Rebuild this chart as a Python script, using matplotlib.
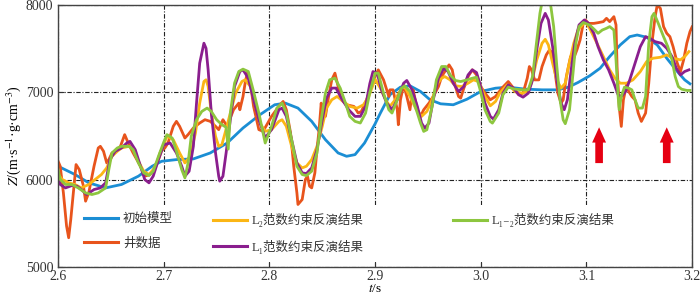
import matplotlib
matplotlib.use('Agg')
import matplotlib.pyplot as plt
from matplotlib.patches import Rectangle

plt.rcParams['font.family'] = ['Liberation Serif', 'Noto Sans CJK SC', 'DejaVu Sans']
plt.rcParams['mathtext.fontset'] = 'stix'

# initial model
t_init = [2.600, 2.616, 2.629, 2.645, 2.660, 2.676, 2.689, 2.698, 2.712, 2.728, 2.744, 2.760,
          2.775, 2.791, 2.805, 2.815, 2.827, 2.840, 2.853, 2.865, 2.873, 2.881, 2.890, 2.900,
          2.905, 2.914, 2.924, 2.933, 2.943, 2.952, 2.962, 2.974, 2.987, 3.000, 3.014, 3.026,
          3.042, 3.058, 3.073, 3.083, 3.092, 3.103, 3.113, 3.122, 3.132, 3.141, 3.148, 3.157,
          3.167, 3.176, 3.186, 3.193, 3.198]
z_init = [6154, 6059, 5964, 5906, 5945, 6040, 6154, 6211, 6230, 6238, 6306, 6420,
          6592, 6744, 6858, 6877, 6820, 6668, 6458, 6306, 6268, 6287, 6420, 6640,
          6763, 6972, 7060, 7075, 7010, 6915, 6869, 6858, 6922, 7010, 7048, 7060,
          7037, 7029, 7029, 7060, 7113, 7189, 7277, 7410, 7543, 7638, 7657, 7631,
          7543, 7391, 7239, 7143, 7098]

# well data
t_well = [2.600, 2.602, 2.605, 2.608, 2.610, 2.612, 2.615, 2.617, 2.620, 2.624, 2.626, 2.629,
          2.634, 2.638, 2.640, 2.643, 2.646, 2.648, 2.651, 2.654, 2.659, 2.663, 2.667, 2.671,
          2.678, 2.682, 2.687, 2.692, 2.697, 2.701, 2.704, 2.709, 2.712, 2.715, 2.720, 2.723,
          2.728, 2.734, 2.739, 2.744, 2.749, 2.752, 2.756, 2.760, 2.763, 2.766, 2.771, 2.772,
          2.775, 2.777, 2.779, 2.782, 2.785, 2.790, 2.794, 2.802, 2.810, 2.813, 2.816, 2.820,
          2.823, 2.826, 2.827, 2.831, 2.834, 2.836, 2.838, 2.840, 2.843, 2.845, 2.847, 2.849,
          2.850, 2.853, 2.856, 2.859, 2.862, 2.865, 2.868, 2.873, 2.880, 2.884, 2.887, 2.892,
          2.897, 2.903, 2.908, 2.913, 2.914, 2.917, 2.921, 2.922, 2.924, 2.927, 2.930, 2.933,
          2.935, 2.936, 2.940, 2.943, 2.946, 2.951, 2.955, 2.960, 2.963, 2.967, 2.970, 2.973,
          2.976, 2.979, 2.981, 2.984, 2.988, 2.992, 2.996, 3.000, 3.004, 3.009, 3.014, 3.020,
          3.026, 3.031, 3.036, 3.040, 3.044, 3.046, 3.048, 3.051, 3.055, 3.058, 3.062, 3.065,
          3.068, 3.070, 3.073, 3.076, 3.078, 3.081, 3.085, 3.088, 3.091, 3.094, 3.097, 3.099,
          3.102, 3.107, 3.111, 3.116, 3.119, 3.122, 3.126, 3.128, 3.129, 3.131, 3.133, 3.135,
          3.138, 3.140, 3.143, 3.146, 3.149, 3.152, 3.156, 3.159, 3.162, 3.165, 3.167, 3.170,
          3.173, 3.176, 3.179, 3.182, 3.186, 3.189, 3.192, 3.195, 3.198, 3.200]
z_well = [6211, 6154, 5850, 5470, 5335, 5545, 5925, 6173, 6116, 5925, 5754, 5850,
          6154, 6363, 6382, 6325, 6192, 6230, 6306, 6325, 6382, 6516, 6401, 6306,
          6154, 6040, 6059, 6135, 6325, 6363, 6420, 6611, 6668, 6611, 6477, 6516,
          6592, 6649, 6687, 6668, 6611, 6573, 6687, 6611, 6706, 6801, 6877, 6801,
          6953, 7106, 7220, 7106, 6839, 6573, 6554, 6725, 6858, 6896, 6801, 6535,
          6154, 5849, 5716, 5773, 6002, 6040, 5925, 5906, 6078, 6344, 6573, 6877,
          6725, 6725, 6953, 7144, 7220, 7068, 6915, 6858, 6839, 6763, 6782, 6915,
          7106, 7258, 7143, 6953, 7029, 7029, 6801, 6629, 6915, 7086, 6953, 6801,
          6991, 7029, 6801, 6725, 6801, 6877, 6953, 7067, 7181, 7258, 7315, 7258,
          7067, 6953, 6934, 7048, 7181, 7258, 7200, 7067, 6991, 6915, 6953, 7048,
          7124, 7048, 6972, 6991, 7162, 7296, 7258, 7143, 7143, 7296, 7429, 7486,
          7448, 7258, 6991, 6877, 6915, 7181, 7410, 7391, 7486, 7600, 7790, 7829,
          7790, 7790, 7798, 7810, 7848, 7810, 7867, 7772, 7296, 6839, 6610, 6915,
          7086, 7010, 6953, 6915, 6763, 6667, 6763, 7105, 7562, 7867, 8000, 7962,
          7753, 7677, 7638, 7524, 7334, 7238, 7372, 7562, 7695, 7750]

# L2 norm inversion
t_l2 = [2.600, 2.604, 2.610, 2.616, 2.622, 2.629, 2.635, 2.641, 2.646, 2.651, 2.656, 2.660,
        2.667, 2.671, 2.676, 2.681, 2.686, 2.690, 2.695, 2.700, 2.703, 2.709, 2.715, 2.720,
        2.725, 2.730, 2.734, 2.738, 2.740, 2.742, 2.745, 2.749, 2.752, 2.755, 2.758, 2.763,
        2.768, 2.774, 2.777, 2.782, 2.786, 2.791, 2.796, 2.802, 2.809, 2.812, 2.816, 2.821,
        2.826, 2.831, 2.835, 2.840, 2.845, 2.850, 2.854, 2.859, 2.864, 2.870, 2.876, 2.883,
        2.889, 2.894, 2.900, 2.905, 2.910, 2.914, 2.919, 2.925, 2.928, 2.933, 2.939, 2.944,
        2.949, 2.954, 2.958, 2.963, 2.966, 2.971, 2.976, 2.982, 2.988, 2.993, 2.998, 3.004,
        3.009, 3.014, 3.018, 3.025, 3.028, 3.032, 3.039, 3.044, 3.048, 3.053, 3.058, 3.061,
        3.064, 3.068, 3.072, 3.076, 3.080, 3.083, 3.088, 3.092, 3.099, 3.103, 3.110, 3.116,
        3.122, 3.127, 3.132, 3.138, 3.144, 3.151, 3.157, 3.163, 3.170, 3.176, 3.182, 3.189,
        3.193, 3.197]
z_l2 = [6059, 6002, 5964, 5945, 5906, 5945, 6002, 6059, 6135, 6268, 6325, 6363,
        6382, 6344, 6211, 6097, 6059, 6116, 6230, 6400, 6497, 6458, 6306, 6192,
        6268, 6535, 6877, 7125, 7144, 7068, 6763, 6497, 6382, 6401, 6535, 6763,
        6991, 7125, 7144, 7068, 6877, 6649, 6554, 6573, 6668, 6687, 6611, 6382,
        6192, 6135, 6154, 6230, 6382, 6611, 6820, 6915, 6953, 6896, 6839, 6820,
        6858, 6953, 7150, 7048, 6915, 6839, 6915, 7048, 7060, 6953, 6801, 6725,
        6782, 6915, 7086, 7162, 7181, 7143, 7075, 7067, 7105, 7143, 7124, 6953,
        6846, 6896, 6991, 7086, 7075, 7010, 6991, 7010, 7105, 7372, 7562, 7608,
        7543, 7334, 7143, 7048, 7105, 7296, 7562, 7714, 7810, 7734, 7562, 7410,
        7258, 7162, 7105, 7105, 7143, 7238, 7353, 7391, 7402, 7429, 7391, 7372,
        7410, 7467]

# L1 norm inversion
t_l1 = [2.600, 2.602, 2.607, 2.613, 2.618, 2.622, 2.627, 2.634, 2.640, 2.645, 2.649, 2.654,
        2.660, 2.665, 2.668, 2.673, 2.678, 2.682, 2.686, 2.690, 2.695, 2.700, 2.706, 2.712,
        2.717, 2.720, 2.724, 2.728, 2.731, 2.734, 2.738, 2.740, 2.742, 2.745, 2.749, 2.752,
        2.753, 2.756, 2.759, 2.763, 2.767, 2.772, 2.775, 2.780, 2.785, 2.790, 2.796, 2.802,
        2.809, 2.812, 2.816, 2.821, 2.826, 2.831, 2.835, 2.840, 2.845, 2.850, 2.854, 2.859,
        2.863, 2.868, 2.875, 2.881, 2.886, 2.891, 2.895, 2.898, 2.902, 2.906, 2.911, 2.916,
        2.921, 2.927, 2.930, 2.935, 2.940, 2.944, 2.947, 2.951, 2.955, 2.960, 2.965, 2.969,
        2.974, 2.979, 2.984, 2.988, 2.992, 2.996, 2.999, 3.004, 3.009, 3.012, 3.017, 3.021,
        3.026, 3.031, 3.036, 3.040, 3.045, 3.049, 3.053, 3.057, 3.061, 3.064, 3.068, 3.072,
        3.076, 3.079, 3.082, 3.086, 3.089, 3.093, 3.098, 3.102, 3.107, 3.111, 3.116, 3.121,
        3.126, 3.130, 3.133, 3.137, 3.141, 3.146, 3.151, 3.156, 3.160, 3.165, 3.171, 3.176,
        3.181, 3.185, 3.189, 3.193, 3.197]
z_l1 = [6040, 5945, 5906, 5933, 5925, 5887, 5830, 5887, 5906, 5964, 6230, 6325,
        6363, 6420, 6439, 6344, 6154, 6002, 5964, 6040, 6230, 6400, 6420, 6306,
        6154, 6040, 6097, 6382, 6877, 7334, 7563, 7505, 7258, 6763, 6306, 6040,
        5983, 6040, 6306, 6687, 7068, 7239, 7258, 7163, 6915, 6687, 6480, 6573,
        6801, 6820, 6725, 6458, 6192, 6078, 6070, 6135, 6344, 6687, 6934, 7049,
        7049, 6934, 6801, 6725, 6725, 6839, 7100, 7238, 7220, 7029, 6877, 6801,
        6915, 7105, 7136, 7029, 6839, 6648, 6591, 6648, 6915, 7162, 7277, 7239,
        7105, 7010, 7067, 7200, 7258, 7227, 7105, 6877, 6725, 6694, 6801, 6991,
        7086, 7048, 6972, 6945, 6991, 7143, 7486, 7790, 7905, 7829, 7524, 7143,
        6877, 6801, 6915, 7296, 7562, 7772, 7829, 7790, 7676, 7524, 7372, 7258,
        7105, 6972, 6953, 7010, 7143, 7334, 7524, 7638, 7619, 7581, 7562, 7505,
        7410, 7277, 7200, 7239, 7258]

# L1-2 norm inversion
t_l12 = [2.600, 2.602, 2.607, 2.613, 2.619, 2.626, 2.632, 2.638, 2.645, 2.648, 2.651, 2.656,
         2.660, 2.667, 2.671, 2.676, 2.681, 2.686, 2.690, 2.695, 2.700, 2.703, 2.708, 2.712,
         2.717, 2.720, 2.723, 2.726, 2.731, 2.736, 2.741, 2.745, 2.750, 2.755, 2.759, 2.761,
         2.763, 2.767, 2.771, 2.775, 2.780, 2.785, 2.790, 2.796, 2.802, 2.807, 2.812, 2.816,
         2.821, 2.826, 2.831, 2.835, 2.840, 2.845, 2.849, 2.853, 2.857, 2.862, 2.867, 2.872,
         2.876, 2.881, 2.886, 2.891, 2.895, 2.900, 2.903, 2.908, 2.913, 2.916, 2.921, 2.925,
         2.928, 2.933, 2.938, 2.943, 2.946, 2.949, 2.954, 2.958, 2.963, 2.967, 2.971, 2.976,
         2.981, 2.987, 2.992, 2.996, 2.999, 3.004, 3.009, 3.011, 3.017, 3.021, 3.026, 3.032,
         3.040, 3.045, 3.049, 3.053, 3.056, 3.059, 3.065, 3.069, 3.072, 3.075, 3.078, 3.080,
         3.084, 3.087, 3.090, 3.093, 3.097, 3.103, 3.108, 3.111, 3.115, 3.119, 3.122, 3.126,
         3.128, 3.130, 3.131, 3.133, 3.136, 3.140, 3.143, 3.146, 3.149, 3.153, 3.156, 3.159,
         3.162, 3.164, 3.168, 3.173, 3.177, 3.181, 3.184, 3.187, 3.190, 3.195, 3.198]
z_l12 = [6116, 6002, 5945, 5945, 5906, 5849, 5830, 5849, 5906, 6116, 6306, 6363,
         6382, 6382, 6344, 6192, 6078, 6047, 6097, 6268, 6430, 6516, 6477, 6325,
         6116, 6021, 6192, 6497, 6687, 6782, 6820, 6782, 6687, 6630, 6600, 6350,
         6763, 7106, 7239, 7266, 7239, 7010, 6763, 6420, 6611, 6820, 6877, 6763,
         6458, 6154, 6059, 6047, 6097, 6306, 6687, 6991, 7144, 7163, 7049, 6877,
         6725, 6668, 6649, 6763, 7000, 7220, 7220, 6991, 6801, 6763, 6915, 7048,
         7075, 7010, 6839, 6648, 6553, 6572, 6839, 7143, 7296, 7296, 7200, 7136,
         7124, 7143, 7162, 7174, 7048, 6801, 6667, 6648, 6763, 6972, 7060, 7037,
         7029, 7029, 7181, 7600, 7905, 8100, 8100, 7753, 7296, 6915, 6686, 6641,
         6801, 7181, 7562, 7753, 7800, 7772, 7714, 7676, 7714, 7734, 7753, 7714,
         7372, 6953, 6801, 6953, 7060, 7048, 7029, 6915, 6820, 6820, 6953, 7562,
         7867, 7905, 7790, 7638, 7524, 7372, 7181, 7067, 7037, 7022, 7022]

arrow_t = [3.112, 3.176]
xticks = [2.6, 2.7, 2.8, 2.9, 3.0, 3.1, 3.2]
yticks = [5000, 6000, 7000, 8000]

fig = plt.figure(figsize=(7, 2.97), dpi=100)
ax = fig.add_axes([0.083, 0.101, 0.9057, 0.882])

lw = 2.0
l_init, = ax.plot(t_init, z_init, color='#1b8ed4', lw=lw, label='初始模型')
l_well, = ax.plot(t_well, z_well, color='#e8541c', lw=lw, label='井数据')
l_l2, = ax.plot(t_l2, z_l2, color='#fbb615', lw=lw, label='L₂范数约束反演结果')
l_l1, = ax.plot(t_l1, z_l1, color='#8a1e8e', lw=lw, label='L₁范数约束反演结果')
l_l12, = ax.plot(t_l12, z_l12, color='#8dc63f', lw=lw, label='L₁₋₂范数约束反演结果')

for t in arrow_t:
    ax.annotate('', xy=(t, 6600), xytext=(t, 6190),
                arrowprops=dict(width=5.5, headwidth=10, headlength=11, color='#e60012', lw=0))

ax.set_xlim(2.6, 3.2)
ax.set_ylim(5000, 8000)
ax.set_xticks(xticks)
ax.set_xticklabels([f'{v:.1f}' for v in xticks])
ax.set_yticks(yticks)
ax.set_axisbelow(True)
ax.grid(True, color='#222222', lw=0.8, linestyle=(0, (4, 1.5, 1, 1.5)))
ax.tick_params(direction='in', length=4, width=0.8, labelsize=10, colors='#333333')
ax.tick_params(axis='x', pad=2.5)
for s in ax.spines.values():
    s.set_color('#444444')
    s.set_linewidth(1.0)

ax.set_xlabel(r'$t$/s', fontsize=9.5, labelpad=-0.5)
ax.set_ylabel(r'$Z$/(m·s$^{-1}$·g·cm$^{-3}$)', fontsize=10, labelpad=2)

# white box behind the legend hides the grid
ax.add_patch(Rectangle((0.027, 0.02), 0.968, 0.215, transform=ax.transAxes,
                       facecolor='white', edgecolor='none', zorder=1))

leg_kw = dict(loc='upper left', frameon=False, fontsize=9, borderaxespad=0, borderpad=0,
              handlelength=2.7, handletextpad=0.4, labelspacing=1.0)
leg1 = ax.legend(handles=[l_init, l_well], bbox_to_anchor=(0.041, 0.206), **leg_kw)
ax.add_artist(leg1)
leg2 = ax.legend(handles=[l_l2, l_l1], bbox_to_anchor=(0.2445, 0.206), **leg_kw)
ax.add_artist(leg2)
leg3 = ax.legend(handles=[l_l12], bbox_to_anchor=(0.623, 0.206), **leg_kw)
for lg in (leg1, leg2, leg3):
    for ln in lg.get_lines():
        ln.set_linewidth(2.2)
    for tx in lg.get_texts():
        tx.set_color('#333333')

fig.savefig('out.png', dpi=100)
